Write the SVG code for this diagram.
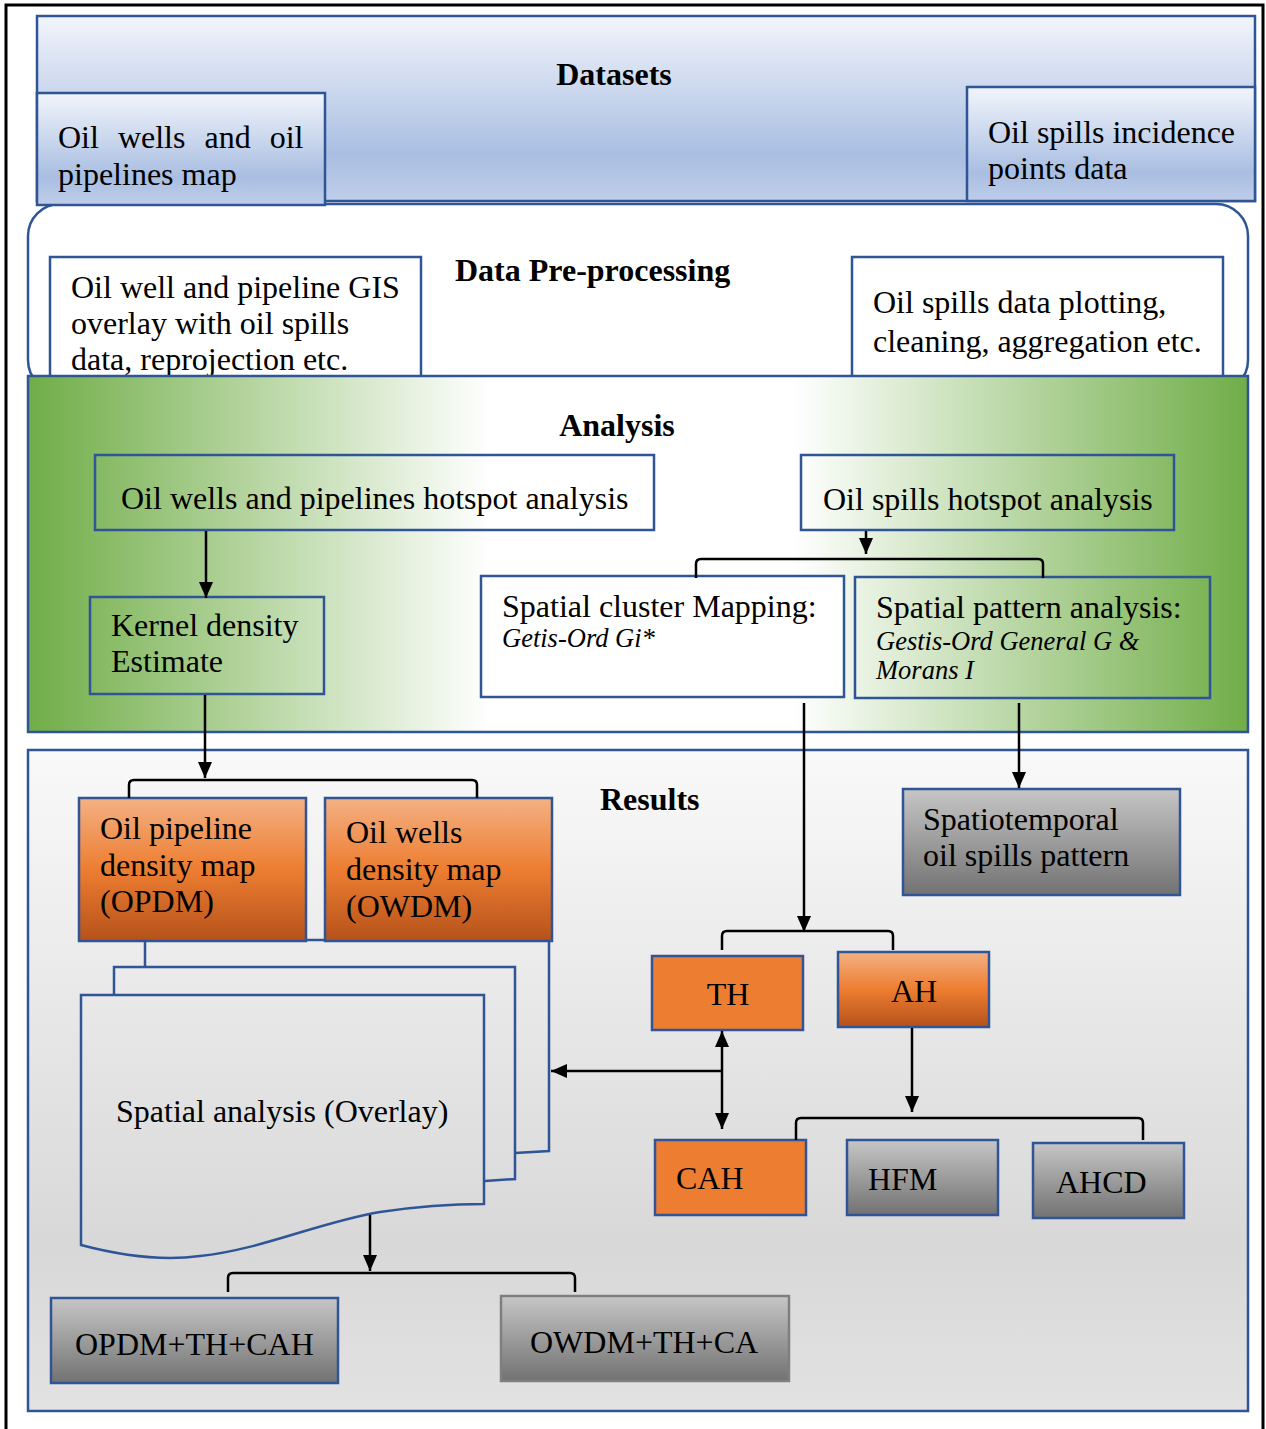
<svg xmlns="http://www.w3.org/2000/svg" width="1266" height="1429" viewBox="0 0 1266 1429">
<style>
text{font-family:"Liberation Serif","Times New Roman",serif;font-size:32px;fill:#000}
.b{font-weight:bold}
.it{font-style:italic;font-size:26.5px}
.bx{stroke:#2f5597;stroke-width:2.5}
.ln{fill:none;stroke:#000;stroke-width:2.5}
.br{fill:none;stroke:#000;stroke-width:2.5;stroke-linejoin:round}
</style>
<defs>
<linearGradient id="blueG" x1="0" y1="0" x2="0" y2="1">
<stop offset="0" stop-color="#f2f5fb"/><stop offset="0.75" stop-color="#a9bee2"/><stop offset="1" stop-color="#bfcde9"/>
</linearGradient>
<linearGradient id="greenG" x1="28" y1="0" x2="1248" y2="0" gradientUnits="userSpaceOnUse">
<stop offset="0" stop-color="#70ad47"/><stop offset="0.379" stop-color="#ffffff"/><stop offset="0.627" stop-color="#ffffff"/><stop offset="1" stop-color="#70ad47"/>
</linearGradient>
<linearGradient id="resG" x1="0" y1="750" x2="0" y2="1411" gradientUnits="userSpaceOnUse">
<stop offset="0" stop-color="#f9f9f9"/><stop offset="0.75" stop-color="#d8d8d8"/><stop offset="1" stop-color="#e2e2e2"/>
</linearGradient>
<linearGradient id="orG" x1="0" y1="0" x2="0" y2="1">
<stop offset="0" stop-color="#f4b183"/><stop offset="0.5" stop-color="#ed7d31"/><stop offset="1" stop-color="#b5521a"/>
</linearGradient>
<linearGradient id="grG" x1="0" y1="0" x2="0" y2="1">
<stop offset="0" stop-color="#c6c6c6"/><stop offset="1" stop-color="#727272"/>
</linearGradient>
<marker id="ah" markerUnits="userSpaceOnUse" markerWidth="16" markerHeight="14" refX="16" refY="7" orient="auto-start-reverse">
<path d="M0,0 L16,7 L0,14 z" fill="#000"/>
</marker>
</defs>

<rect x="6" y="5" width="1257" height="1440" fill="#fff" stroke="#000" stroke-width="3"/>

<g id="preprocessing">
<rect x="28" y="204" width="1220" height="188" rx="32" fill="#fff" class="bx"/>
<text class="b" x="455" y="281">Data Pre-processing</text>
</g>
<g id="gis-overlay">
<rect x="50" y="257" width="371" height="130" fill="#fff" class="bx"/>
<text x="71" y="298">Oil well and pipeline GIS</text>
<text x="71" y="334">overlay with oil spills</text>
<text x="71" y="370">data, reprojection etc.</text>
</g>
<g id="spill-cleaning">
<rect x="852" y="257" width="371" height="130" fill="#fff" class="bx"/>
<text x="873" y="313">Oil spills data plotting,</text>
<text x="873" y="352">cleaning, aggregation etc.</text>
</g>

<g id="datasets">
<rect x="37" y="16" width="1218" height="185" fill="url(#blueG)" class="bx"/>
<text class="b" x="614" y="85" text-anchor="middle">Datasets</text>
</g>
<g id="wells-map">
<rect x="37" y="93" width="288" height="112" fill="url(#blueG)" class="bx"/>
<text x="58" y="148" word-spacing="11">Oil wells and oil</text>
<text x="58" y="185">pipelines map</text>
</g>
<g id="spills-data">
<rect x="967" y="87" width="288" height="114" fill="url(#blueG)" class="bx"/>
<text x="988" y="143">Oil spills incidence</text>
<text x="988" y="179">points data</text>
</g>

<g id="analysis">
<rect x="28" y="376" width="1220" height="356" fill="url(#greenG)" class="bx"/>
<text class="b" x="617" y="436" text-anchor="middle">Analysis</text>
</g>
<g id="wells-hotspot">
<rect x="95" y="455" width="559" height="75" fill="none" class="bx"/>
<text x="121" y="509">Oil wells and pipelines hotspot analysis</text>
</g>
<g id="spills-hotspot">
<rect x="801" y="455" width="373" height="75" fill="none" class="bx"/>
<text x="823" y="510">Oil spills hotspot analysis</text>
</g>
<g id="kernel">
<rect x="90" y="597" width="234" height="97" fill="none" class="bx"/>
<text x="111" y="636">Kernel density</text>
<text x="111" y="672">Estimate</text>
</g>
<g id="cluster">
<rect x="481" y="576" width="363" height="121" fill="#fff" class="bx"/>
<text x="502" y="617">Spatial cluster Mapping:</text>
<text class="it" x="502" y="647">Getis-Ord Gi*</text>
</g>
<g id="pattern">
<rect x="855" y="577" width="355" height="121" fill="none" class="bx"/>
<text x="876" y="618">Spatial pattern analysis:</text>
<text class="it" x="876" y="650">Gestis-Ord General G &amp;</text>
<text class="it" x="876" y="679">Morans I</text>
</g>

<g id="results">
<rect x="28" y="750" width="1220" height="661" fill="url(#resG)" class="bx"/>
<text class="b" x="600" y="810">Results</text>
</g>
<g id="overlay">
<path d="M145,967 V940 H549 V1151 L515,1153" fill="url(#resG)" class="bx"/>
<path d="M114,995 V967 H515 V1179 L485,1181" fill="url(#resG)" class="bx"/>
<path d="M81,995 H484 V1204 C450,1204 420,1206 380,1212 C320,1222 260,1250 200,1256 C170,1260 130,1258 81,1245 Z" fill="url(#resG)" class="bx"/>
<text x="116" y="1122">Spatial analysis (Overlay)</text>
</g>
<g id="opdm">
<rect x="79" y="798" width="227" height="143" fill="url(#orG)" class="bx"/>
<text x="100" y="839">Oil pipeline</text>
<text x="100" y="876">density map</text>
<text x="100" y="912">(OPDM)</text>
</g>
<g id="owdm">
<rect x="325" y="798" width="227" height="143" fill="url(#orG)" class="bx"/>
<text x="346" y="843">Oil wells</text>
<text x="346" y="880">density map</text>
<text x="346" y="917">(OWDM)</text>
</g>
<g id="spatiotemporal">
<rect x="903" y="789" width="277" height="106" fill="url(#grG)" class="bx"/>
<text x="923" y="830">Spatiotemporal</text>
<text x="923" y="866">oil spills pattern</text>
</g>
<g id="th">
<rect x="652" y="956" width="151" height="74" fill="#ed7d31" class="bx"/>
<text x="728" y="1005" text-anchor="middle">TH</text>
</g>
<g id="ah">
<rect x="838" y="952" width="151" height="75" fill="url(#orG)" class="bx"/>
<text x="914" y="1002" text-anchor="middle">AH</text>
</g>
<g id="cah">
<rect x="655" y="1140" width="151" height="75" fill="#ed7d31" class="bx"/>
<text x="676" y="1189">CAH</text>
</g>
<g id="hfm">
<rect x="847" y="1140" width="151" height="75" fill="url(#grG)" class="bx"/>
<text x="868" y="1190">HFM</text>
</g>
<g id="ahcd">
<rect x="1033" y="1143" width="151" height="75" fill="url(#grG)" class="bx"/>
<text x="1056" y="1193">AHCD</text>
</g>
<g id="opdm-th-cah">
<rect x="51" y="1298" width="287" height="85" fill="url(#grG)" class="bx"/>
<text x="75" y="1355">OPDM+TH+CAH</text>
</g>
<g id="owdm-th-ca">
<rect x="501" y="1296" width="288" height="85" fill="url(#grG)" stroke="#7f7f7f" stroke-width="2.5"/>
<text x="530" y="1353">OWDM+TH+CA</text>
</g>

<g id="connectors">
<path class="ln" d="M206,531 V598" marker-end="url(#ah)"/>
<path class="ln" d="M866,531 V554" marker-end="url(#ah)"/>
<path class="br" d="M696,578 V564 Q696,559 701,559 H1038 Q1043,559 1043,564 V578"/>
<path class="ln" d="M205,695 V778" marker-end="url(#ah)"/>
<path class="br" d="M129,798 V785 Q129,780 134,780 H472 Q477,780 477,785 V798"/>
<path class="ln" d="M804,703 V932" marker-end="url(#ah)"/>
<path class="br" d="M722,950 V936 Q722,931 727,931 H888 Q893,931 893,936 V950"/>
<path class="ln" d="M1019,703 V788" marker-end="url(#ah)"/>
<path class="ln" d="M722,1031 V1129" marker-start="url(#ah)" marker-end="url(#ah)"/>
<path class="ln" d="M722,1071 H551" marker-end="url(#ah)"/>
<path class="ln" d="M912,1028 V1112" marker-end="url(#ah)"/>
<path class="br" d="M796,1140 V1123 Q796,1118 801,1118 H1138 Q1143,1118 1143,1123 V1140"/>
<path class="ln" d="M370,1215 V1271" marker-end="url(#ah)"/>
<path class="br" d="M228,1292 V1278 Q228,1273 233,1273 H570 Q575,1273 575,1278 V1292"/>
</g>
</svg>
